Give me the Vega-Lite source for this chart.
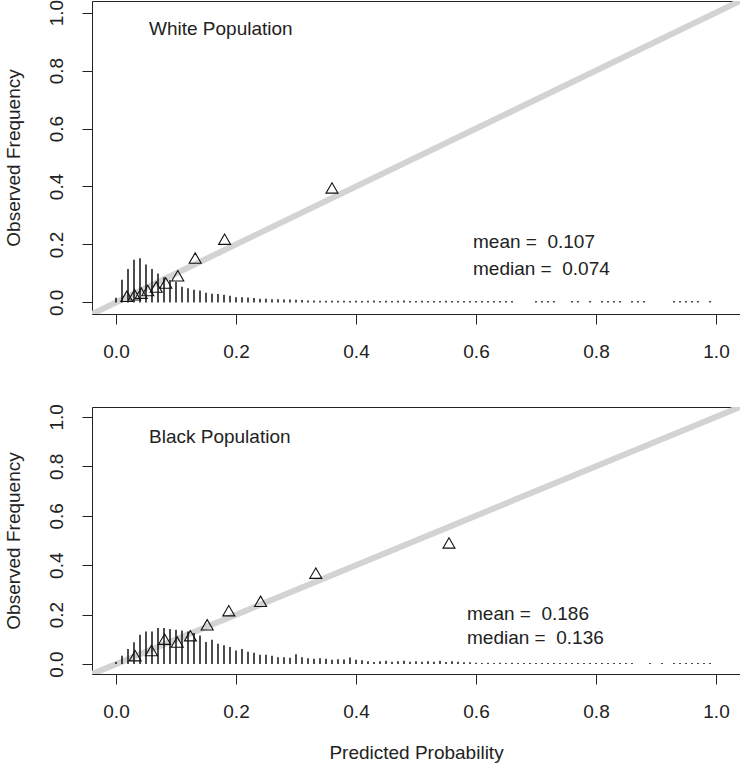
{
  "$schema": "https://vega.github.io/schema/vega-lite/v6.json",
  "padding": {"left": 3, "top": -2, "right": 0, "bottom": 0},
  "bounds": "flush",
  "spacing": 93,
  "datasets": {
    "one": [{}],
    "white_spikes": [
      {"p": 0.00, "h": 0.016}, {"p": 0.01, "h": 0.078}, {"p": 0.02, "h": 0.115}, {"p": 0.03, "h": 0.147},
      {"p": 0.04, "h": 0.152}, {"p": 0.05, "h": 0.131}, {"p": 0.06, "h": 0.115}, {"p": 0.07, "h": 0.100},
      {"p": 0.08, "h": 0.087}, {"p": 0.09, "h": 0.077}, {"p": 0.10, "h": 0.070}, {"p": 0.11, "h": 0.054},
      {"p": 0.12, "h": 0.049}, {"p": 0.13, "h": 0.044}, {"p": 0.14, "h": 0.041}, {"p": 0.15, "h": 0.033},
      {"p": 0.16, "h": 0.030}, {"p": 0.17, "h": 0.029}, {"p": 0.18, "h": 0.026}, {"p": 0.19, "h": 0.023},
      {"p": 0.20, "h": 0.018}, {"p": 0.21, "h": 0.018}, {"p": 0.22, "h": 0.017}, {"p": 0.23, "h": 0.015},
      {"p": 0.24, "h": 0.013}, {"p": 0.25, "h": 0.013}, {"p": 0.26, "h": 0.011}, {"p": 0.27, "h": 0.011},
      {"p": 0.28, "h": 0.010}, {"p": 0.29, "h": 0.010}, {"p": 0.30, "h": 0.009}, {"p": 0.31, "h": 0.008},
      {"p": 0.32, "h": 0.007}, {"p": 0.33, "h": 0.007}, {"p": 0.34, "h": 0.006}, {"p": 0.35, "h": 0.006},
      {"p": 0.36, "h": 0.006}, {"p": 0.37, "h": 0.006}, {"p": 0.38, "h": 0.006}, {"p": 0.39, "h": 0.005},
      {"p": 0.40, "h": 0.006}, {"p": 0.41, "h": 0.005}, {"p": 0.42, "h": 0.006}, {"p": 0.43, "h": 0.007},
      {"p": 0.44, "h": 0.005}, {"p": 0.45, "h": 0.006}, {"p": 0.46, "h": 0.005}, {"p": 0.47, "h": 0.006},
      {"p": 0.48, "h": 0.007}, {"p": 0.49, "h": 0.005}, {"p": 0.50, "h": 0.005}, {"p": 0.51, "h": 0.006},
      {"p": 0.52, "h": 0.005}, {"p": 0.53, "h": 0.005}, {"p": 0.54, "h": 0.005}, {"p": 0.55, "h": 0.006},
      {"p": 0.56, "h": 0.005}, {"p": 0.57, "h": 0.005}, {"p": 0.58, "h": 0.005}, {"p": 0.59, "h": 0.005},
      {"p": 0.60, "h": 0.005}, {"p": 0.61, "h": 0.005}, {"p": 0.62, "h": 0.005}, {"p": 0.63, "h": 0.005},
      {"p": 0.64, "h": 0.005}, {"p": 0.65, "h": 0.005}, {"p": 0.66, "h": 0.005},
      {"p": 0.70, "h": 0.005}, {"p": 0.71, "h": 0.005}, {"p": 0.72, "h": 0.005}, {"p": 0.73, "h": 0.005},
      {"p": 0.76, "h": 0.005}, {"p": 0.77, "h": 0.005}, {"p": 0.79, "h": 0.005},
      {"p": 0.81, "h": 0.005}, {"p": 0.82, "h": 0.005}, {"p": 0.83, "h": 0.005}, {"p": 0.84, "h": 0.005},
      {"p": 0.86, "h": 0.005}, {"p": 0.87, "h": 0.005}, {"p": 0.88, "h": 0.005},
      {"p": 0.93, "h": 0.005}, {"p": 0.94, "h": 0.005}, {"p": 0.95, "h": 0.005}, {"p": 0.96, "h": 0.005},
      {"p": 0.97, "h": 0.005}, {"p": 0.99, "h": 0.005}
    ],
    "white_pts": [
      {"p": 0.018, "o": 0.021}, {"p": 0.031, "o": 0.026}, {"p": 0.042, "o": 0.032}, {"p": 0.053, "o": 0.041},
      {"p": 0.067, "o": 0.053}, {"p": 0.083, "o": 0.067}, {"p": 0.103, "o": 0.092}, {"p": 0.132, "o": 0.153},
      {"p": 0.181, "o": 0.218}, {"p": 0.360, "o": 0.395}
    ],
    "black_spikes": [
      {"p": 0.00, "h": 0.009}, {"p": 0.01, "h": 0.034}, {"p": 0.02, "h": 0.061}, {"p": 0.03, "h": 0.088},
      {"p": 0.04, "h": 0.119}, {"p": 0.05, "h": 0.132}, {"p": 0.06, "h": 0.132}, {"p": 0.07, "h": 0.146},
      {"p": 0.08, "h": 0.146}, {"p": 0.09, "h": 0.142}, {"p": 0.10, "h": 0.139}, {"p": 0.11, "h": 0.136},
      {"p": 0.12, "h": 0.132}, {"p": 0.13, "h": 0.126}, {"p": 0.14, "h": 0.116}, {"p": 0.15, "h": 0.089},
      {"p": 0.16, "h": 0.099}, {"p": 0.17, "h": 0.082}, {"p": 0.18, "h": 0.076}, {"p": 0.19, "h": 0.069},
      {"p": 0.20, "h": 0.055}, {"p": 0.21, "h": 0.061}, {"p": 0.22, "h": 0.050}, {"p": 0.23, "h": 0.046},
      {"p": 0.24, "h": 0.038}, {"p": 0.25, "h": 0.038}, {"p": 0.26, "h": 0.034}, {"p": 0.27, "h": 0.028},
      {"p": 0.28, "h": 0.028}, {"p": 0.29, "h": 0.026}, {"p": 0.30, "h": 0.040}, {"p": 0.31, "h": 0.028},
      {"p": 0.32, "h": 0.024}, {"p": 0.33, "h": 0.022}, {"p": 0.34, "h": 0.024}, {"p": 0.35, "h": 0.022},
      {"p": 0.36, "h": 0.018}, {"p": 0.37, "h": 0.020}, {"p": 0.38, "h": 0.019}, {"p": 0.39, "h": 0.027},
      {"p": 0.40, "h": 0.018}, {"p": 0.41, "h": 0.016}, {"p": 0.42, "h": 0.012}, {"p": 0.43, "h": 0.009},
      {"p": 0.44, "h": 0.012}, {"p": 0.45, "h": 0.014}, {"p": 0.46, "h": 0.010}, {"p": 0.47, "h": 0.012},
      {"p": 0.48, "h": 0.014}, {"p": 0.49, "h": 0.010}, {"p": 0.50, "h": 0.012}, {"p": 0.51, "h": 0.010},
      {"p": 0.52, "h": 0.012}, {"p": 0.53, "h": 0.010}, {"p": 0.54, "h": 0.014}, {"p": 0.55, "h": 0.009},
      {"p": 0.56, "h": 0.012}, {"p": 0.57, "h": 0.010}, {"p": 0.58, "h": 0.008}, {"p": 0.59, "h": 0.008},
      {"p": 0.60, "h": 0.006}, {"p": 0.61, "h": 0.005}, {"p": 0.62, "h": 0.006}, {"p": 0.63, "h": 0.005},
      {"p": 0.64, "h": 0.006}, {"p": 0.65, "h": 0.005}, {"p": 0.66, "h": 0.006}, {"p": 0.67, "h": 0.005},
      {"p": 0.68, "h": 0.005}, {"p": 0.69, "h": 0.005}, {"p": 0.70, "h": 0.005}, {"p": 0.71, "h": 0.005},
      {"p": 0.72, "h": 0.005}, {"p": 0.73, "h": 0.005}, {"p": 0.74, "h": 0.005}, {"p": 0.75, "h": 0.005},
      {"p": 0.76, "h": 0.005}, {"p": 0.77, "h": 0.005}, {"p": 0.78, "h": 0.005}, {"p": 0.79, "h": 0.005},
      {"p": 0.80, "h": 0.005}, {"p": 0.81, "h": 0.005}, {"p": 0.82, "h": 0.005}, {"p": 0.83, "h": 0.005},
      {"p": 0.84, "h": 0.005}, {"p": 0.85, "h": 0.005}, {"p": 0.86, "h": 0.005},
      {"p": 0.89, "h": 0.005}, {"p": 0.91, "h": 0.005},
      {"p": 0.93, "h": 0.005}, {"p": 0.94, "h": 0.005}, {"p": 0.95, "h": 0.005}, {"p": 0.96, "h": 0.005},
      {"p": 0.97, "h": 0.005}, {"p": 0.98, "h": 0.005}, {"p": 0.99, "h": 0.005}
    ],
    "black_pts": [
      {"p": 0.032, "o": 0.034}, {"p": 0.059, "o": 0.055}, {"p": 0.081, "o": 0.101}, {"p": 0.102, "o": 0.089},
      {"p": 0.124, "o": 0.115}, {"p": 0.152, "o": 0.159}, {"p": 0.188, "o": 0.216}, {"p": 0.241, "o": 0.254},
      {"p": 0.333, "o": 0.368}, {"p": 0.555, "o": 0.490}
    ]
  },
  "vconcat": [
    {
      "width": 648,
      "height": 313,
      "layer": [
        {
          "data": {"name": "one"},
          "mark": {"type": "rule", "color": "#d3d3d3", "strokeWidth": 6, "clip": true},
          "encoding": {
            "x": {"datum": -0.04, "type": "quantitative", "scale": {"domain": [-0.04, 1.04], "nice": false, "zero": false}, "axis": {"values": [0, 0.2, 0.4, 0.6, 0.8, 1], "format": ".1f", "title": null}},
            "y": {"datum": -0.04, "type": "quantitative", "scale": {"domain": [-0.04, 1.04], "nice": false, "zero": false}, "axis": {"values": [0, 0.2, 0.4, 0.6, 0.8, 1], "format": ".1f", "title": "Observed Frequency"}},
            "x2": {"datum": 1.04},
            "y2": {"datum": 1.04}
          }
        },
        {
          "data": {"name": "white_spikes"},
          "mark": {"type": "rule", "color": "#000000", "strokeWidth": 1.4},
          "encoding": {
            "x": {"field": "p", "type": "quantitative", "scale": {"domain": [-0.04, 1.04], "nice": false, "zero": false}, "axis": {"values": [0, 0.2, 0.4, 0.6, 0.8, 1], "format": ".1f", "title": null}},
            "y": {"field": "h", "type": "quantitative", "scale": {"domain": [-0.04, 1.04], "nice": false, "zero": false}, "axis": {"values": [0, 0.2, 0.4, 0.6, 0.8, 1], "format": ".1f", "title": "Observed Frequency"}},
            "y2": {"datum": 0}
          }
        },
        {
          "data": {"name": "white_pts"},
          "mark": {"type": "point", "shape": "triangle-up", "filled": false, "stroke": "#111111", "strokeWidth": 1.1, "size": 144, "opacity": 1},
          "encoding": {
            "x": {"field": "p", "type": "quantitative", "scale": {"domain": [-0.04, 1.04], "nice": false, "zero": false}, "axis": {"values": [0, 0.2, 0.4, 0.6, 0.8, 1], "format": ".1f", "title": null}},
            "y": {"field": "o", "type": "quantitative", "scale": {"domain": [-0.04, 1.04], "nice": false, "zero": false}, "axis": {"values": [0, 0.2, 0.4, 0.6, 0.8, 1], "format": ".1f", "title": "Observed Frequency"}}
          }
        },
        {
          "data": {"name": "one"},
          "mark": {"type": "text", "align": "left", "baseline": "middle", "fontSize": 19, "font": "Liberation Sans", "color": "#222222"},
          "encoding": {"x": {"datum": 0.055, "type": "quantitative"}, "y": {"datum": 0.943, "type": "quantitative"}, "text": {"value": "White Population"}}
        },
        {
          "data": {"name": "one"},
          "mark": {"type": "text", "align": "left", "baseline": "middle", "fontSize": 19, "font": "Liberation Sans", "color": "#222222"},
          "encoding": {"x": {"datum": 0.595, "type": "quantitative"}, "y": {"datum": 0.207, "type": "quantitative"}, "text": {"value": "mean =\u00a0 0.107"}}
        },
        {
          "data": {"name": "one"},
          "mark": {"type": "text", "align": "left", "baseline": "middle", "fontSize": 19, "font": "Liberation Sans", "color": "#222222"},
          "encoding": {"x": {"datum": 0.595, "type": "quantitative"}, "y": {"datum": 0.114, "type": "quantitative"}, "text": {"value": "median =\u00a0 0.074"}}
        }
      ]
    },
    {
      "width": 648,
      "height": 267,
      "layer": [
        {
          "data": {"name": "one"},
          "mark": {"type": "rule", "color": "#d3d3d3", "strokeWidth": 6, "clip": true},
          "encoding": {
            "x": {"datum": -0.04, "type": "quantitative", "scale": {"domain": [-0.04, 1.04], "nice": false, "zero": false}, "axis": {"values": [0, 0.2, 0.4, 0.6, 0.8, 1], "format": ".1f", "title": "Predicted Probability"}},
            "y": {"datum": -0.04, "type": "quantitative", "scale": {"domain": [-0.04, 1.04], "nice": false, "zero": false}, "axis": {"values": [0, 0.2, 0.4, 0.6, 0.8, 1], "format": ".1f", "title": "Observed Frequency"}},
            "x2": {"datum": 1.04},
            "y2": {"datum": 1.04}
          }
        },
        {
          "data": {"name": "black_spikes"},
          "mark": {"type": "rule", "color": "#000000", "strokeWidth": 1.4},
          "encoding": {
            "x": {"field": "p", "type": "quantitative", "scale": {"domain": [-0.04, 1.04], "nice": false, "zero": false}, "axis": {"values": [0, 0.2, 0.4, 0.6, 0.8, 1], "format": ".1f", "title": "Predicted Probability"}},
            "y": {"field": "h", "type": "quantitative", "scale": {"domain": [-0.04, 1.04], "nice": false, "zero": false}, "axis": {"values": [0, 0.2, 0.4, 0.6, 0.8, 1], "format": ".1f", "title": "Observed Frequency"}},
            "y2": {"datum": 0}
          }
        },
        {
          "data": {"name": "black_pts"},
          "mark": {"type": "point", "shape": "triangle-up", "filled": false, "stroke": "#111111", "strokeWidth": 1.1, "size": 144, "opacity": 1},
          "encoding": {
            "x": {"field": "p", "type": "quantitative", "scale": {"domain": [-0.04, 1.04], "nice": false, "zero": false}, "axis": {"values": [0, 0.2, 0.4, 0.6, 0.8, 1], "format": ".1f", "title": "Predicted Probability"}},
            "y": {"field": "o", "type": "quantitative", "scale": {"domain": [-0.04, 1.04], "nice": false, "zero": false}, "axis": {"values": [0, 0.2, 0.4, 0.6, 0.8, 1], "format": ".1f", "title": "Observed Frequency"}}
          }
        },
        {
          "data": {"name": "one"},
          "mark": {"type": "text", "align": "left", "baseline": "middle", "fontSize": 19, "font": "Liberation Sans", "color": "#222222"},
          "encoding": {"x": {"datum": 0.055, "type": "quantitative"}, "y": {"datum": 0.919, "type": "quantitative"}, "text": {"value": "Black Population"}}
        },
        {
          "data": {"name": "one"},
          "mark": {"type": "text", "align": "left", "baseline": "middle", "fontSize": 19, "font": "Liberation Sans", "color": "#222222"},
          "encoding": {"x": {"datum": 0.585, "type": "quantitative"}, "y": {"datum": 0.202, "type": "quantitative"}, "text": {"value": "mean =\u00a0 0.186"}}
        },
        {
          "data": {"name": "one"},
          "mark": {"type": "text", "align": "left", "baseline": "middle", "fontSize": 19, "font": "Liberation Sans", "color": "#222222"},
          "encoding": {"x": {"datum": 0.585, "type": "quantitative"}, "y": {"datum": 0.105, "type": "quantitative"}, "text": {"value": "median =\u00a0 0.136"}}
        }
      ]
    }
  ],
  "config": {
    "font": "Liberation Sans",
    "view": {"stroke": "#222222", "strokeWidth": 1},
    "axis": {
      "grid": false,
      "domain": false,
      "tickColor": "#222222",
      "tickSize": 10,
      "labelFont": "Liberation Sans",
      "labelFontSize": 19,
      "labelColor": "#222222",
      "titleFont": "Liberation Sans",
      "titleFontSize": 19,
      "titleFontWeight": "normal",
      "titleColor": "#222222"
    },
    "axisX": {"labelPadding": 18, "titlePadding": 22},
    "axisY": {"labelAngle": -90, "labelAlign": "center", "labelBaseline": "bottom", "labelPadding": 16, "titlePadding": 24}
  }
}
